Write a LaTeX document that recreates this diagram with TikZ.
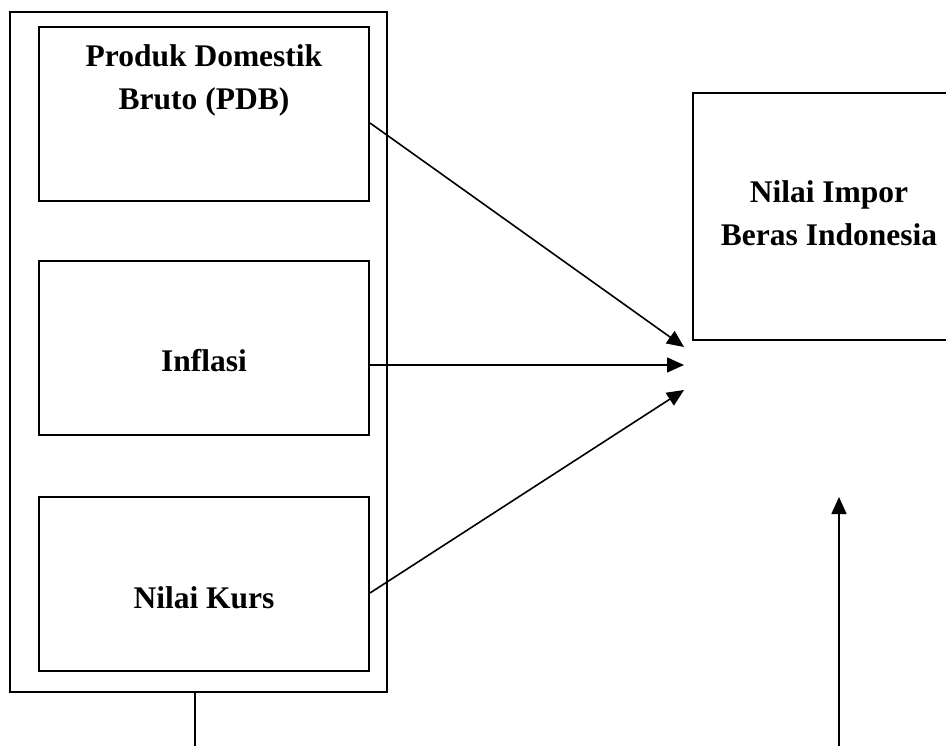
\documentclass[tikz,border=0pt]{standalone}
\usepackage{fontspec}
\setmainfont{Liberation Serif}
\usetikzlibrary{arrows.meta,positioning}

\begin{document}
\begin{tikzpicture}
[
	              x = 1pt, y = -1pt,
	             >= {Triangle[length=17pt,width=15pt]},
	   frame/.style = { draw=black, line width=1.6pt, inner sep=0pt },
	     box/.style = { frame, line width=2pt, minimum width=330pt, minimum height=174pt },
	     lbl/.style = { font=\bfseries\fontsize{31.5}{43}\selectfont, align=center, inner sep=0pt },
	    link/.style = { draw=black, line width=1.6pt }
]
	\useasboundingbox (0,0) rectangle (946,746);

	% boxes
	\node (group)  at (198.5,352) [frame, minimum width=377pt, minimum height=680pt] {};
	\node (pdb)    at (204,114)   [box] {};
	\node (infl)   at (204,348)   [box] {};
	\node (kurs)   at (204,584)   [box] {};
	\node (impor)  at (829,216.5) [box, minimum width=272pt, minimum height=247pt] {};

	% texts (base = last line)
	\node (pdbtxt)   at (204,110) [lbl, anchor=base] {Produk Domestik\\Bruto (PDB)};
	\node (infltxt)  at (204,371) [lbl, anchor=base] {Inflasi};
	\node (kurstxt)  at (204,608) [lbl, anchor=base] {Nilai Kurs};
	\node (importxt) at (829,246) [lbl, anchor=base] {Nilai Impor\\Beras Indonesia};

	% targets and loose ends
	\coordinate (t1)   at (684,347);
	\coordinate (t2)   at (684,365);
	\coordinate (t3)   at (684,390);
	\coordinate (low)  at (195,746);
	\coordinate (foot) at (839,746);
	\coordinate (tip)  at (839,497);

	% connectors
	\draw [link, ->] ([yshift=-9pt]pdb.east)   -- (t1);
	\draw [link, ->] ([yshift=-17pt]infl.east) -- (t2);
	\draw [link, ->] ([yshift=-9pt]kurs.east)  -- (t3);
	\draw [link] ([xshift=-3.5pt]group.south) -- (low);
	\draw [link, ->] (foot) -- (tip);

\end{tikzpicture}
\end{document}
